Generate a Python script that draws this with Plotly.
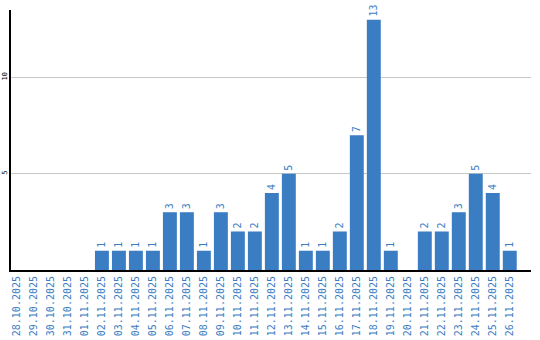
import plotly.graph_objects as go

dates = ["28.10.2025", "29.10.2025", "30.10.2025", "31.10.2025", "01.11.2025",
         "02.11.2025", "03.11.2025", "04.11.2025", "05.11.2025", "06.11.2025",
         "07.11.2025", "08.11.2025", "09.11.2025", "10.11.2025", "11.11.2025",
         "12.11.2025", "13.11.2025", "14.11.2025", "15.11.2025", "16.11.2025",
         "17.11.2025", "18.11.2025", "19.11.2025", "20.11.2025", "21.11.2025",
         "22.11.2025", "23.11.2025", "24.11.2025", "25.11.2025", "26.11.2025"]
counts = [0, 0, 0, 0, 0,
          1, 1, 1, 1, 3,
          3, 1, 3, 2, 2,
          4, 5, 1, 1, 2,
          7, 13, 1, 0, 2,
          2, 3, 5, 4, 1]
y_ticks = [5, 10]

BLUE = "#3a7dc3"
labels = [str(v) if v else "" for v in counts]

fig = go.Figure(go.Bar(
    x=dates, y=counts, marker_color=BLUE, marker_line_width=0,
    text=labels, textposition="outside", textangle=-90,
    textfont=dict(family="DejaVu Sans Mono", size=10, color=BLUE),
    cliponaxis=False,
))
fig.update_layout(
    width=540, height=340,
    margin=dict(l=11, r=9, t=10, b=70),
    paper_bgcolor="white", plot_bgcolor="white",
    bargap=0.18, showlegend=False,
)
fig.update_xaxes(
    type="category", range=[-0.35, 30.25], automargin=False, tickangle=-90,
    tickfont=dict(family="DejaVu Sans Mono", size=10, color=BLUE),
    showline=True, linecolor="black", linewidth=2, showgrid=False,
    ticks="", ticklen=0,
)
fig.update_yaxes(
    range=[0, 13.5], tickvals=y_ticks, ticktext=[str(t) for t in y_ticks],
    automargin=False, ticklabelstandoff=-1,
    tickangle=-90, tickfont=dict(family="DejaVu Sans Mono", size=7, color="black"),
    showline=True, linecolor="black", linewidth=2,
    showgrid=True, gridcolor="#c8c8c8", gridwidth=1, zeroline=False,
)
fig.write_html("out.html")
